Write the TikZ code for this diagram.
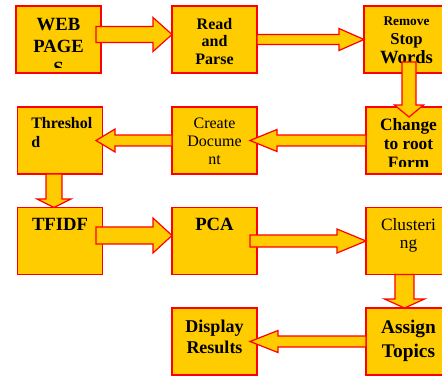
\documentclass[tikz,border=0pt]{standalone}
\usepackage{fontspec}
\setmainfont{Liberation Serif}
\usetikzlibrary{calc}
\definecolor{boxgold}{RGB}{255,204,0}
\definecolor{edgered}{RGB}{255,0,0}
\tikzset{
  stepbox/.style={draw=edgered,line width=1.1pt,fill=boxgold,minimum width=63.75pt,
                  minimum height=50.25pt,inner sep=0pt,outer sep=0pt},
  steptext/.style={inner sep=0pt,anchor=north,align=center},
  flowarrow/.style={draw=edgered,line width=0.9pt,fill=boxgold},
}
% block arrow: tail, tip, half shaft, half head, head length
\newcommand{\blockflow}[5]{%
  \coordinate (bfhead) at ($(#2)!#5!(#1)$);
  \draw[flowarrow] ($(#1)!#3!90:(#2)$) -- ($(bfhead)!#3!-90:(#1)$)
    -- ($(bfhead)!#4!-90:(#1)$) -- (#2) -- ($(bfhead)!#4!90:(#1)$)
    -- ($(bfhead)!#3!90:(#1)$) -- ($(#1)!#3!-90:(#2)$) -- cycle;}

\begin{document}
\begin{tikzpicture}[x=0.75pt,y=-0.75pt]
  \path[use as bounding box] (0,0) rectangle (442,375);

  \node[stepbox] (web)     at (58.5,39.5)  {};
  \node[stepbox] (read)    at (214.5,39.5) {};
  \node[stepbox] (remove)  at (406.5,39.5) {};
  \node[stepbox] (thresh)  at (60,140.5)   {};
  \node[stepbox] (create)  at (214.5,140.5) {};
  \node[stepbox] (change)  at (408.5,140.5) {};
  \node[stepbox] (tfidf)   at (60,241)     {};
  \node[stepbox] (pca)     at (214.5,241)  {};
  \node[stepbox] (clust)   at (408.5,241)  {};
  \node[stepbox] (display) at (214.5,341.5) {};
  \node[stepbox] (assign)  at (408.5,341.5) {};

  \begin{scope}
    \clip (web.north west) rectangle ($(web.south east)+(0,-6)$);
    \node[steptext,font=\fontsize{14}{16.5}\selectfont\bfseries] (webtext)
      at ($(web.north)+(0,12)$) {WEB\\PAGE\\S};
  \end{scope}
  \node[steptext,font=\fontsize{12}{13.1}\selectfont\bfseries] (readtext)
    at ($(read.north)+(0,12)$) {Read\\and\\Parse};
  \node[steptext,font=\fontsize{14}{14.25}\selectfont\bfseries] (removetext)
    at ($(remove.north)+(0,11)$)
    {{\fontsize{10}{12}\selectfont Remove}\\{\fontsize{12.5}{15}\selectfont Stop}\\Words};
  \node[steptext,anchor=north west,align=left,font=\fontsize{12}{14.25}\selectfont\bfseries]
    (threshtext) at ($(thresh.north west)+(13.5,10)$) {Threshol\\d};
  \node[steptext,font=\fontsize{12}{13.5}\selectfont] (createtext)
    at ($(create.north)+(0,11)$) {Create\\Docume\\nt};
  \begin{scope}
    \clip (change.north west) rectangle ($(change.south east)+(0,-8)$);
    \node[steptext,font=\fontsize{13}{14.5}\selectfont\bfseries] (changetext)
      at ($(change.north)+(0,11)$) {Change\\to root\\Form};
  \end{scope}
  \node[steptext,font=\fontsize{14}{16}\selectfont\bfseries] (tfidftext)
    at ($(tfidf.north)+(0,10.5)$) {TFIDF};
  \node[steptext,font=\fontsize{14}{16}\selectfont\bfseries] (pcatext)
    at ($(pca.north)+(0,10.5)$) {PCA};
  \node[steptext,font=\fontsize{13}{13.5}\selectfont] (clusttext)
    at ($(clust.north)+(0,10.5)$) {Clusteri\\ng};
  \node[steptext,font=\fontsize{13.5}{15.5}\selectfont\bfseries] (displaytext)
    at ($(display.north)+(0,12)$) {Display\\Results};
  \node[steptext,font=\fontsize{14.5}{18}\selectfont\bfseries] (assigntext)
    at ($(assign.north)+(0,12)$) {Assign\\Topics};

  % arrows between the steps
  \coordinate (webout)    at ($(web.east)+(-5,-5)$);
  \coordinate (readin)    at ($(read.west)+(0,-5)$);
  \coordinate (removeout) at ($(remove.south)+(2.5,-11)$);
  \coordinate (changein)  at ($(change.north)+(0.5,10)$);
  \coordinate (createin)  at ($(create.east)+(-7,0)$);
  \coordinate (threshin)  at ($(thresh.east)+(-6.5,0)$);
  \coordinate (threshout) at ($(thresh.south)+(-6,0)$);
  \coordinate (tfidfin)   at ($(tfidf.north)+(-6,0)$);
  \coordinate (tfidfout)  at ($(tfidf.east)+(-6.5,-5.5)$);
  \coordinate (pcain)     at ($(pca.west)+(0,-5.5)$);
  \coordinate (pcaout)    at ($(pca.east)+(-7,0)$);
  \coordinate (clustout)  at ($(clust.south)+(-4,0)$);
  \coordinate (assignin)  at ($(assign.north)+(-4,0)$);
  \coordinate (displayin) at ($(display.east)+(-7,0)$);

  \blockflow{webout}{readin}{6pt}{12.75pt}{14.25pt}
  \blockflow{read.east}{remove.west}{3.75pt}{8.25pt}{18.75pt}
  \blockflow{removeout}{changein}{5.25pt}{10.9pt}{9pt}
  \blockflow{change.west}{createin}{4.1pt}{8.25pt}{20.25pt}
  \blockflow{create.west}{threshin}{4.1pt}{8.6pt}{14.25pt}
  \blockflow{threshout}{tfidfin}{6pt}{12.75pt}{6.4pt}
  \blockflow{tfidfout}{pcain}{6.4pt}{13.1pt}{14.25pt}
  \blockflow{pcaout}{clust.west}{4.5pt}{9pt}{21.75pt}
  \blockflow{clustout}{assignin}{7.1pt}{15pt}{6.75pt}
  \blockflow{assign.west}{displayin}{4.1pt}{8.25pt}{21pt}
\end{tikzpicture}
\end{document}
